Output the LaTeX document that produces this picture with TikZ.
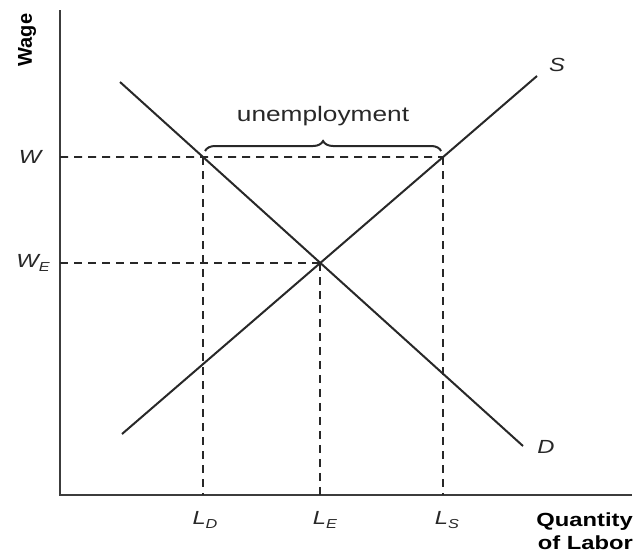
\documentclass[tikz,border=0pt]{standalone}
\usepackage{fontspec}
\setmainfont{Liberation Sans}[FakeStretch=1.25]
\newfontfamily\plainsans{Liberation Sans}
\usepackage{xcolor}
\usepackage{tikz}
\usetikzlibrary{
  arrows.meta,
  positioning,
  decorations.pathreplacing
}
\definecolor{AxisGray}{RGB}{60, 60, 60}
\definecolor{CurveGray}{RGB}{40, 40, 40}
\tikzset{
    axisline/.style={draw=AxisGray, line width=2.6pt},
    curveline/.style={draw=CurveGray, line width=2pt},
    guideline/.style={draw=CurveGray, line width=1.7pt, dash pattern=on 8pt off 6pt},
    varlabel/.style={font=\fontsize{19}{21}\selectfont\itshape, text=CurveGray, inner sep=1pt},
}
\newcommand{\sublab}[2]{\textit{#1}\raisebox{-0.35ex}{\fontsize{13}{13}\selectfont\textit{#2}}}

\begin{document}
\begin{tikzpicture}[x=1pt, y=-1pt]
    \useasboundingbox (0,0) rectangle (634,555);
    % axes
    \coordinate (top) at (60,10);
    \coordinate (origin) at (60,495);
    \coordinate (right) at (632,495);
    \draw[axisline] (top) -- (origin) -- (right);
    % supply and demand
    \coordinate (Dstart) at (120,82);
    \coordinate (Dend) at (523,446);
    \coordinate (Sstart) at (122,434);
    \coordinate (Send) at (537,76);
    \draw[curveline] (Dstart) -- (Dend);
    \draw[curveline] (Sstart) -- (Send);
    \coordinate (eq) at (intersection of Dstart--Dend and Sstart--Send);
    \coordinate (wtop) at (60,157);
    \coordinate (wright) at (632,157);
    \coordinate (ld) at (intersection of Dstart--Dend and wtop--wright);
    \coordinate (ls) at (intersection of Sstart--Send and wtop--wright);
    \coordinate (we) at (origin |- eq);
    % guides
    \draw[guideline] (wtop) -- (ls);
    \draw[guideline] (we) -- (eq);
    \draw[guideline] (ld) -- (ld |- origin);
    \draw[guideline] (eq) -- (eq |- origin);
    \draw[guideline] (ls) -- (ls |- origin);
    % brace
    \draw[curveline, decorate, decoration={brace, amplitude=10pt}]
        ([xshift=2pt, yshift=6pt]ld) -- ([xshift=-2pt, yshift=6pt]ls);
    \node[font=\fontsize{21}{23}\selectfont, text=CurveGray] (gap) at (323,116) {unemployment};
    % labels
    \node[varlabel] (wlab) at (30,157) {W};
    \node[varlabel] (welab) at (33,263) {\sublab{W}{E}};
    \node[varlabel] (ldlab) at (205,520) {\sublab{L}{D}};
    \node[varlabel] (lelab) at (325,520) {\sublab{L}{E}};
    \node[varlabel] (lslab) at (447,520) {\sublab{L}{S}};
    \node[varlabel] (slab) at (557,65) {S};
    \node[varlabel] (dlab) at (546,447) {D};
    \node[font=\plainsans\fontsize{20}{22}\selectfont\bfseries, rotate=90] (wage) at (27,40) {Wage};
    \node[font=\fontsize{19}{21}\selectfont\bfseries, anchor=east, inner sep=0pt] (qty) at (633,522) {Quantity};
    \node[font=\fontsize{19}{21}\selectfont\bfseries, anchor=east, inner sep=0pt] (lab) at (633,543) {of Labor};
\end{tikzpicture}
\end{document}
